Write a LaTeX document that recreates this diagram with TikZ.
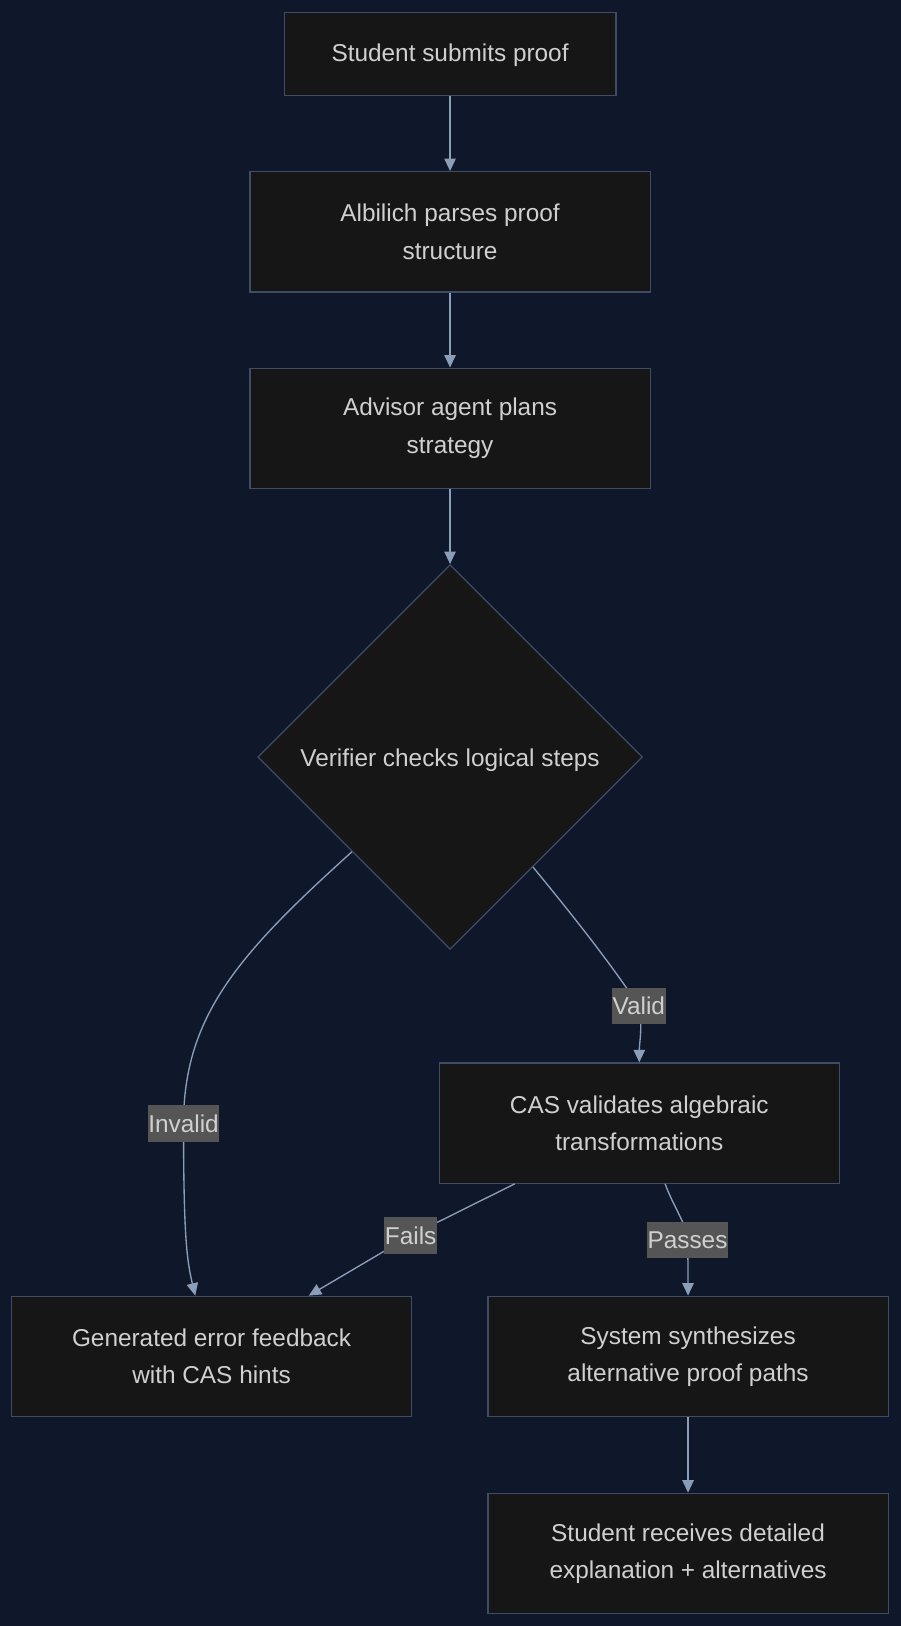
\documentclass[tikz,border=0pt]{standalone}
\usepackage{fontspec}
\setmainfont{Liberation Sans}
\usetikzlibrary{shapes.geometric,arrows.meta}
\definecolor{bgcol}{HTML}{0F172A}
\definecolor{nodefill}{HTML}{161616}
\definecolor{nodeborder}{HTML}{3E4C65}
\definecolor{edgecol}{HTML}{8C9DB8}
\definecolor{txtcol}{HTML}{D0D0D0}
\definecolor{lblfill}{HTML}{555555}
\begin{document}
\begin{tikzpicture}[x=1pt,y=-1pt,
  box/.style={draw=nodeborder, line width=1.2pt, fill=nodefill, text=txtcol,
    align=center, font=\fontsize{23.5}{36}\selectfont, inner sep=0pt,
    minimum width=386pt, minimum height=116pt},
  dia/.style={diamond, draw=nodeborder, line width=1.2pt, fill=nodefill, text=txtcol,
    align=center, font=\fontsize{23.5}{36}\selectfont, inner sep=0pt, aspect=1,
    minimum width=371pt, minimum height=371pt},
  lbl/.style={fill=lblfill, text=txtcol, font=\fontsize{23.5}{28}\selectfont,
    inner xsep=0.5pt, inner ysep=0pt, minimum height=35pt},
  edge/.style={draw=edgecol, line width=1.3pt, -{Triangle[length=12pt,width=11pt]}}
]
\useasboundingbox (0,0) rectangle (868,1568);
\fill[bgcol] (-1,-1) rectangle (869,1569);

\node[box, minimum width=320pt, minimum height=80pt] (a) at (434,52) {\raisebox{-1pt}[\height][\depth]{Student submits proof}};
\node[box] (b) at (434,223.5) {Albilich parses proof\\structure};
\node[box] (c) at (434,413) {Advisor agent plans\\strategy};
\node[dia] (d) at (434,730) {\raisebox{-3pt}[\height][\depth]{Verifier checks logical steps}};
\node[box] (cas) at (616.5,1083) {CAS validates algebraic\\transformations};
\node[box] (gen) at (204,1308) {Generated error feedback\\with CAS hints};
\node[box] (sys) at (663.5,1308) {System synthesizes\\alternative proof paths};
\node[box] (rec) at (663.5,1498) {Student receives detailed\\explanation + alternatives};

\coordinate (vlp) at (616,970);
\coordinate (ilp) at (177,1083.5);
\coordinate (flp) at (396,1191.5);
\coordinate (plp) at (663,1195.5);

\draw[edge] (a) -- (b);
\draw[edge] (b) -- (c);
\draw[edge] (c) -- (d);
\draw[edge] (d.-53) .. controls (550,880) and (586,925) .. (vlp)
  .. controls (620,990) and (616.5,1005) .. (cas.north);
\draw[edge] (d.-136.8) .. controls (230,920) and (177,980) .. (ilp)
  .. controls (177,1190) and (180,1215) .. (gen.105.4);
\draw[edge] (cas.-154.1) -- (flp) -- (gen.32.5);
\draw[edge] (cas.-67.1) .. controls (650,1165) and (662,1180) .. (plp)
  .. controls (663.5,1215) and (663.5,1230) .. (sys.north);
\draw[edge] (sys) -- (rec);

\node[lbl] (vl) at (vlp) {Valid};
\node[lbl] (il) at (ilp) {Invalid};
\node[lbl] (fl) at (flp) {Fails};
\node[lbl] (pl) at (plp) {Passes};
\end{tikzpicture}
\end{document}
